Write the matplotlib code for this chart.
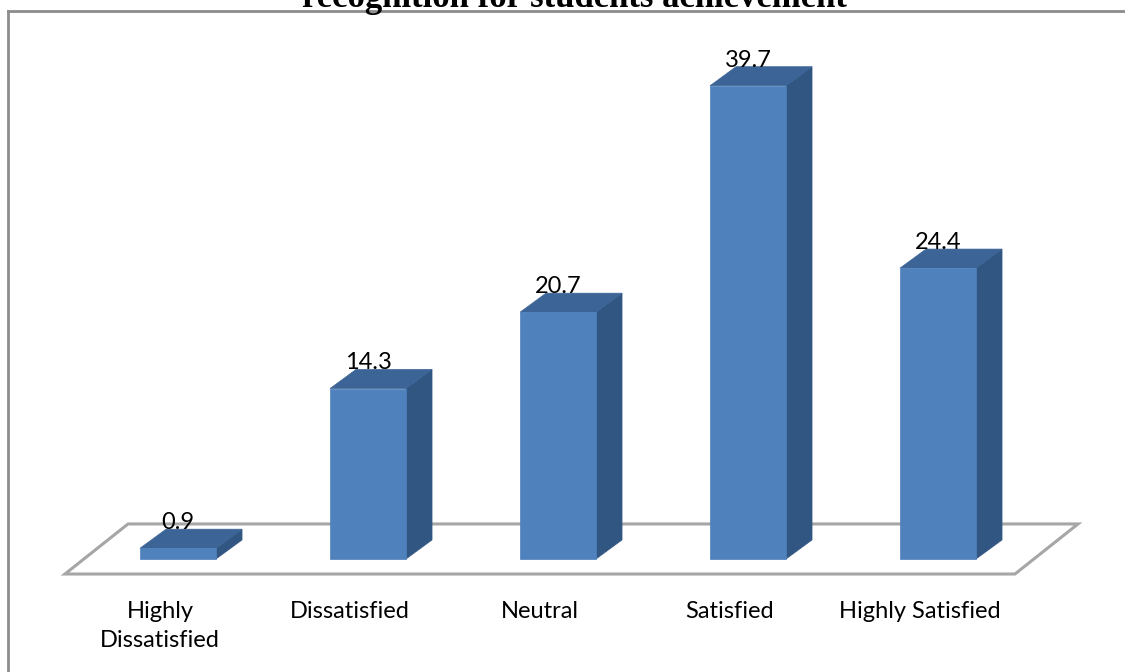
import matplotlib
matplotlib.use("Agg")
import matplotlib.pyplot as plt
from matplotlib.patches import Rectangle, Polygon
from matplotlib.lines import Line2D

# Survey results (percent of respondents)
title = "recognition for students achievement"
categories = ["Highly\nDissatisfied", "Dissatisfied", "Neutral", "Satisfied", "Highly Satisfied"]
values = [0.9, 14.3, 20.7, 39.7, 24.4]
value_labels = ["0.9", "14.3", "20.7", "39.7", "24.4"]

# Styling / 3-D look
FRONT = "#4f81bd"
TOP = "#3c6496"
SIDE = "#325682"
BAR_HALF = 0.2        # half width of the front face (category units)
DEPTH_X = 0.137       # oblique depth offset, x (category units)
DEPTH_Y = 1.6         # oblique depth offset, y (value units)
FLOOR_FRONT_Y = -1.26
FLOOR_BACK_Y = 2.94
FLOOR_LEFT = -0.595
FLOOR_RIGHT = 4.405
FLOOR_SKEW = 0.332

W, H = 1125, 672
fig = plt.figure(figsize=(W / 100, H / 100), dpi=100)
ax = fig.add_axes([0, 0, 1, 1])
ax.set_xlim(-178 / 190, (W - 178) / 190)
ax.set_ylim(-(H - 559) / 11.92, 559 / 11.92)
ax.axis("off")

# Floor of the 3-D plot
floor = Polygon([(FLOOR_LEFT, FLOOR_FRONT_Y), (FLOOR_RIGHT, FLOOR_FRONT_Y),
                 (FLOOR_RIGHT + FLOOR_SKEW, FLOOR_BACK_Y), (FLOOR_LEFT + FLOOR_SKEW, FLOOR_BACK_Y)],
                closed=True, facecolor="white", edgecolor="#a6a6a6", linewidth=2.2, zorder=1)
ax.add_patch(floor)

label_font = ["Lato", "DejaVu Sans"]
for i, (v, lab) in enumerate(zip(values, value_labels)):
    x0, x1 = i - BAR_HALF, i + BAR_HALF
    ax.add_patch(Polygon([(x1, 0), (x1 + DEPTH_X, DEPTH_Y), (x1 + DEPTH_X, v + DEPTH_Y), (x1, v)],
                         closed=True, facecolor=SIDE, edgecolor=SIDE, linewidth=0.5, zorder=2))
    ax.add_patch(Polygon([(x0, v), (x0 + DEPTH_X, v + DEPTH_Y), (x1 + DEPTH_X, v + DEPTH_Y), (x1, v)],
                         closed=True, facecolor=TOP, edgecolor=TOP, linewidth=0.5, zorder=2))
    ax.add_patch(Rectangle((x0, 0), 2 * BAR_HALF, v, facecolor=FRONT, edgecolor=FRONT,
                           linewidth=0.5, zorder=3))
    ax.text(i, v + DEPTH_Y, lab, ha="center", va="baseline", fontsize=17,
            family=label_font, color="black", zorder=4)

# Category labels: first line of each label on a common baseline
for i, cat in enumerate(categories):
    ax.text(i - 0.095, -3.55, cat, ha="center", va="top", fontsize=17,
            family=label_font, color="black", linespacing=1.45, multialignment="center")

# Chart frame (left and top edges visible)
fx, fy = 8 / W, 1 - 11 / H
fig.add_artist(Line2D([fx, fx], [0, fy], color="#8c8c8c", linewidth=2, transform=fig.transFigure))
fig.add_artist(Line2D([fx, 1], [fy, fy], color="#8c8c8c", linewidth=2, transform=fig.transFigure))

fig.text(574 / W, 1 - 7 / H, title, ha="center", va="baseline", fontsize=25,
         fontweight="bold", family=["Liberation Serif", "DejaVu Serif"], color="black")

fig.savefig("out.png", dpi=100)
